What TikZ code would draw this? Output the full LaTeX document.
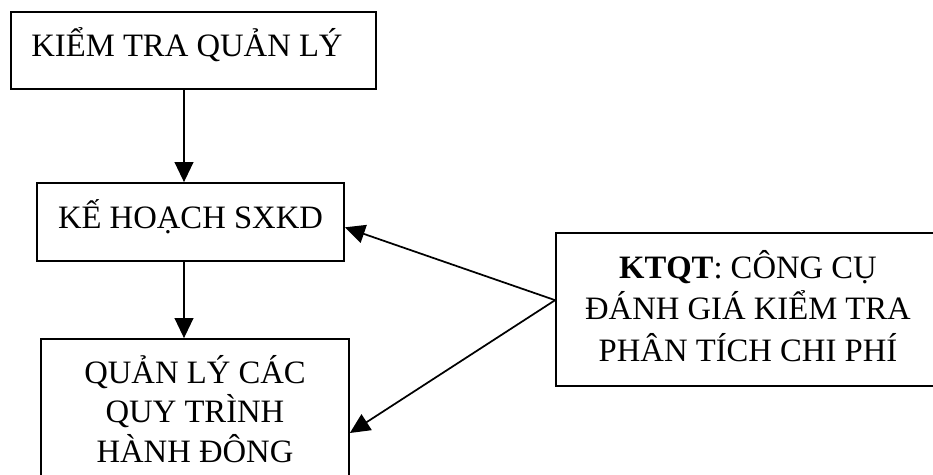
\documentclass[tikz,border=0pt]{standalone}
\usepackage{fontspec}
\setmainfont{Liberation Serif}
\usepackage{tikz}
\usetikzlibrary{arrows.meta}

\begin{document}
\begin{tikzpicture}[
    x=0.75pt, y=-0.75pt,
    every node/.style={inner sep=0pt},
    box/.style={draw=black, line width=1.3pt, fill=white},
    label/.style={font=\fontsize{24.5}{29.5}\selectfont, align=center},
    arr/.style={line width=1.3pt, -{Triangle[length=15pt, width=14pt]}}
]

% Canvas
\useasboundingbox (0,0) rectangle (933,475);
\clip (0,0) rectangle (933,475);

% Boxes on the left
\node[box, minimum width=365*0.75pt, minimum height=77*0.75pt] (control) at (193.5,50.5) {};
\node[box, minimum width=307*0.75pt, minimum height=78*0.75pt] (plan) at (190.5,222) {};
\node[box, minimum width=308*0.75pt, minimum height=188*0.75pt] (process) at (195,433) {};

% Box on the right
\node[box, minimum width=384*0.75pt, minimum height=153*0.75pt] (tool) at (748,309.5) {};

% Box texts (base anchor = last line)
\node[label, anchor=base west] at ([xshift=21*0.75pt, yshift=-45*0.75pt]control.north west) {KIỂM TRA QUẢN LÝ};
\node[label, anchor=base] at ([yshift=-46*0.75pt]plan.north) {KẾ HOẠCH SXKD};
\node[label, anchor=base] at ([yshift=-124*0.75pt]process.north) {QUẢN LÝ CÁC\\QUY TRÌNH\\HÀNH ĐÔNG};
\node[label, font=\fontsize{24.5}{31}\selectfont, anchor=base] at ([yshift=-129*0.75pt]tool.north) {\textbf{KTQT}: CÔNG CỤ\\ĐÁNH GIÁ KIỂM TRA\\PHÂN TÍCH CHI PHÍ};

% Vertical arrows
\coordinate (spine) at (184,0);
\draw[arr] (control.south -| spine) -- (plan.north -| spine);
\draw[arr] (plan.south -| spine) -- (process.north -| spine);

% Arrows from the tool box
\coordinate (tool-in) at ([yshift=7pt]tool.west);
\draw[arr] (tool-in) -- ([yshift=-4pt]plan.east);
\draw[arr] (tool-in) -- (process.east);

\end{tikzpicture}
\end{document}
